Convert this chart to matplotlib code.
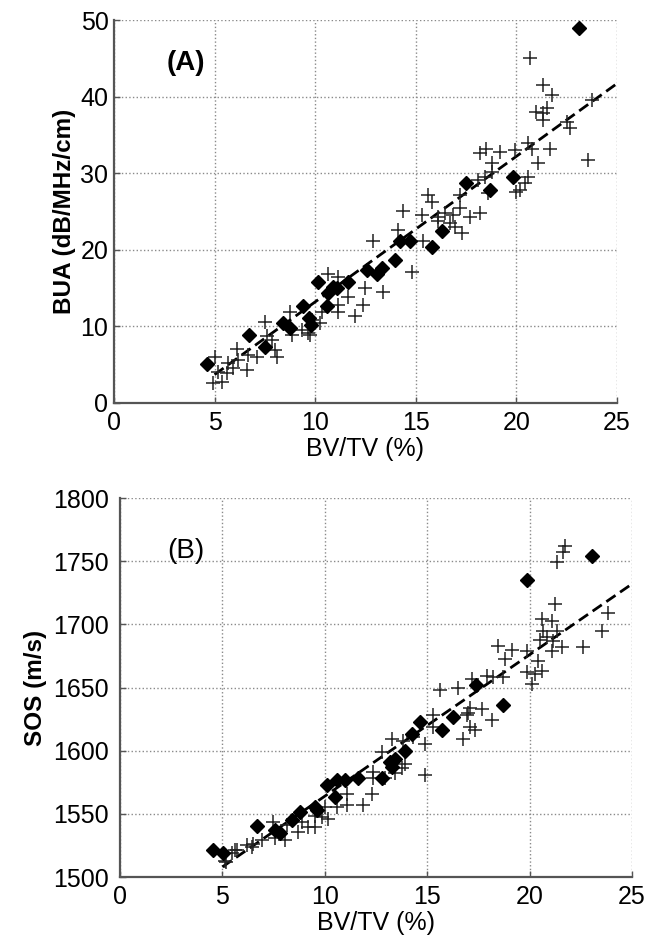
import numpy as np
import matplotlib
matplotlib.use("Agg")
import matplotlib.pyplot as plt

plt.rcParams['font.family'] = ['Liberation Sans', 'DejaVu Sans']

# ---- panel A : BUA vs BV/TV ----
a_dia_x = [4.6, 6.7, 7.5, 8.4, 8.75, 9.4, 9.7, 9.8, 10.15, 10.6, 10.65, 10.9, 11.1, 11.65,
           12.6, 13.05, 13.3, 13.95, 14.2, 14.7, 15.8, 16.3, 17.5, 18.7, 19.85, 23.1]
a_dia_y = [5.1, 8.9, 7.3, 10.4, 9.8, 12.6, 11.1, 10.2, 15.8, 12.6, 14.3, 15.2, 15.0, 15.8,
           17.4, 16.9, 17.6, 18.7, 21.2, 21.1, 20.3, 22.4, 28.7, 27.8, 29.5, 48.9]

a_crs_x = [4.94, 5.35, 5.18, 5.68, 5.6, 6.1, 6.18, 6.6, 6.68, 7.09, 7.5, 7.59, 8.0, 8.09,
           7.84, 8.75, 8.83, 9.33, 9.66, 9.74, 9.83, 10.24, 10.32, 10.65, 11.15, 11.15,
           11.15, 11.65, 11.98, 12.39, 12.47, 13.38, 12.89, 14.8, 5.0, 5.9,
           20.68, 21.34, 21.75, 21.0, 21.34, 21.5, 21.34, 22.5, 22.66, 23.74, 23.57, 20.6,
           20.76, 21.67, 21.09, 19.93, 19.18, 18.5, 18.2, 18.77, 18.77, 18.1, 18.44, 20.6,
           20.43, 20.18, 20.0, 18.6, 15.62, 15.79, 14.38, 15.29, 17.2, 17.2, 16.12, 16.45,
           16.86, 16.7, 17.69, 18.2, 16.95, 17.28, 15.37, 16.1, 14.13]
a_crs_y = [2.6, 2.8, 4.1, 5.2, 3.9, 7.1, 5.6, 4.3, 6.3, 6.0, 10.6, 8.7, 6.9, 6.0,
           8.2, 11.9, 8.9, 9.5, 9.1, 8.9, 10.8, 10.4, 11.9, 16.9, 16.5, 12.8,
           11.9, 13.9, 11.3, 12.8, 15.0, 14.5, 21.1, 17.1, 6.0, 4.6,
           45.0, 41.5, 40.2, 38.0, 37.8, 38.5, 36.9, 36.7, 35.9, 39.6, 31.7, 33.9,
           33.2, 33.2, 31.3, 33.0, 32.8, 33.2, 32.6, 31.3, 30.2, 29.1, 29.5, 29.5,
           28.7, 27.8, 27.6, 27.4, 27.2, 26.3, 25.0, 24.5, 27.2, 25.4, 24.3, 24.8,
           24.5, 23.5, 24.3, 24.8, 23.0, 22.2, 21.1, 23.7, 22.6]

# ---- panel B : SOS vs BV/TV ----
b_dia_x = [4.56, 5.04, 6.67, 7.57, 7.81, 8.38, 8.79, 9.52, 9.6, 10.09, 10.5, 10.58, 10.99,
           11.64, 12.78, 13.18, 13.27, 13.43, 13.92, 14.24, 14.65, 15.7, 16.27, 17.4,
           18.72, 19.86, 23.03]
b_dia_y = [1521, 1518.7, 1540, 1537, 1534.5, 1545, 1551.5, 1555.5, 1553, 1572.6, 1563,
           1576.6, 1577, 1578.7, 1578.7, 1591, 1587, 1593.7, 1600, 1613, 1622.6, 1616,
           1626.5, 1651.6, 1636.5, 1735, 1754]

b_crs_x = [21.73, 21.65, 21.32, 21.24, 23.84, 23.52, 22.6, 20.59, 21.08, 20.67, 21.32, 20.5,
           20.83, 21.16, 21.08, 21.57, 18.47, 19.12, 19.86, 18.8, 20.42, 20.59, 19.86, 20.26,
           20.1, 17.9, 18.23, 18.72, 17.17, 15.63, 16.52, 17.66, 17.09, 16.93, 17.09, 17.33,
           18.15, 16.76, 14.9, 15.3, 15.3, 17.0,
           5.13, 5.45, 5.7, 6.19, 6.43, 6.92, 7.49, 7.57, 8.06, 8.14, 8.87, 9.2, 9.52, 9.85,
           10.17, 10.0, 10.58, 11.07, 11.07, 11.88, 12.29, 12.37, 12.37, 12.94, 12.78, 13.27,
           13.43, 13.75, 13.92, 13.83, 14.9, 14.3, 5.2, 5.6, 6.5, 8.7, 9.5]
b_crs_y = [1762, 1757, 1749, 1716, 1709, 1695, 1682, 1704, 1703, 1695, 1695, 1688,
           1690, 1687, 1679, 1682, 1683, 1680, 1679, 1672.5, 1671, 1663, 1662, 1661,
           1653, 1659.5, 1658, 1658, 1657, 1648, 1650, 1633, 1634, 1628, 1619, 1616,
           1624, 1609.5, 1605.5, 1619, 1628, 1630,
           1513, 1518.7, 1521, 1525, 1524, 1529, 1543.7, 1530.5, 1529, 1541, 1543.7, 1539.6,
           1539.6, 1547.6, 1546, 1555.5, 1555.5, 1557, 1566, 1557, 1566, 1578, 1583, 1578,
           1599, 1609.5, 1582, 1586, 1589.7, 1608, 1580.5, 1610.8, 1512, 1521, 1526, 1536,
           1548]

# regression lines (slope, intercept)
fit_a = (1.90, -5.8)
fit_b = (11.2, 1452.0)
fit_range = [5, 25]

xticks = [0, 5, 10, 15, 20, 25]


def style_axes(ax, ypad):
    ax.set_xlim(0, 25)
    ax.set_xticks(xticks)
    ax.grid(True, linestyle=':', color='#8a8a8a', linewidth=1.0)
    ax.set_axisbelow(True)
    for s in ['top', 'right']:
        ax.spines[s].set_visible(False)
    for s in ['left', 'bottom']:
        ax.spines[s].set_color('#555555')
        ax.spines[s].set_linewidth(1.6)
    ax.tick_params(direction='in', length=4, width=1, color='#555555', labelsize=18)
    ax.tick_params(axis='x', pad=6)
    ax.tick_params(axis='y', pad=ypad)
    ax.set_xlabel('BV/TV (%)', fontsize=18, labelpad=1)


fig = plt.figure(figsize=(6.57, 9.4), dpi=100)
xf = np.array(fit_range)

ax1 = fig.add_axes([0.1735, 0.5713, 0.7655, 0.4074])
style_axes(ax1, 4)
ax1.set_ylim(0, 50)
ax1.set_yticks([0, 10, 20, 30, 40, 50])
ax1.plot(xf, fit_a[0] * xf + fit_a[1], color='black', lw=2.0, dashes=(4, 2))
ax1.plot(a_crs_x, a_crs_y, '+', color='#222222', ms=10, mew=1.1)
ax1.plot(a_dia_x, a_dia_y, 'D', color='black', ms=7.5)
ax1.set_ylabel('BUA (dB/MHz/cm)', fontsize=17.5, fontweight='bold', labelpad=3)
ax1.text(2.6, 44.4, '(A)', fontsize=20, fontweight='bold', va='center')

ax2 = fig.add_axes([0.1826, 0.067, 0.7794, 0.4032])
style_axes(ax2, 8)
ax2.set_ylim(1500, 1800)
ax2.set_yticks([1500, 1550, 1600, 1650, 1700, 1750, 1800])
ax2.plot(xf, fit_b[0] * xf + fit_b[1], color='black', lw=2.0, dashes=(4, 2))
ax2.plot(b_crs_x, b_crs_y, '+', color='#222222', ms=10, mew=1.1)
ax2.plot(b_dia_x, b_dia_y, 'D', color='black', ms=7.5)
ax2.set_ylabel('SOS (m/s)', fontsize=17.5, fontweight='bold', labelpad=4)
ax2.text(2.3, 1758, '(B)', fontsize=20, va='center')

fig.savefig('out.png', dpi=100)
